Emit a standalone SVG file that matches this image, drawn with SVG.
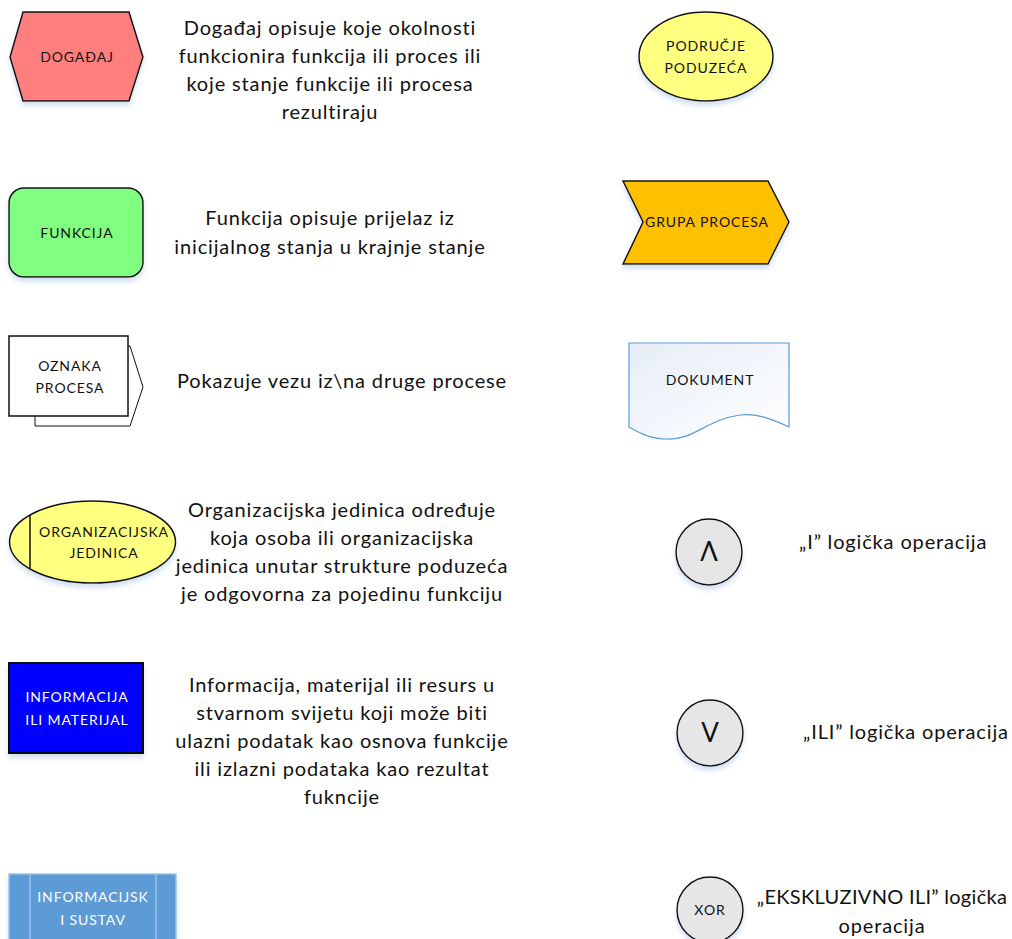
<svg xmlns="http://www.w3.org/2000/svg" width="1012" height="939" viewBox="0 0 1012 939">
<style>
.lbl{font-family:Lato,"Open Sans","Liberation Sans",sans-serif;font-size:14px;fill:#111;text-anchor:middle;letter-spacing:0.9px}
.lblw{font-family:Lato,"Open Sans","Liberation Sans",sans-serif;font-size:14px;fill:#fff;text-anchor:middle;letter-spacing:0.9px}
.desc{font-family:Lato,"Open Sans","Liberation Sans",sans-serif;font-size:20px;fill:#111;text-anchor:middle;letter-spacing:0.85px}
.descl{font-family:Lato,"Open Sans","Liberation Sans",sans-serif;font-size:20px;fill:#111;text-anchor:start;letter-spacing:0.85px}
.tight{letter-spacing:0.3px}
.sym{font-family:Lato,"Open Sans","Liberation Sans",sans-serif;font-size:26px;fill:#111;text-anchor:middle}
.sh{stroke:#111;stroke-width:1.5}
</style>
<defs>
<filter id="shadow" x="-10%" y="-10%" width="120%" height="130%">
<feDropShadow dx="0" dy="4" stdDeviation="2.5" flood-color="#9fb9e0" flood-opacity="0.45"/>
</filter>
<linearGradient id="docg" x1="0" y1="0" x2="1" y2="1">
<stop offset="0" stop-color="#e6edf8"/>
<stop offset="1" stop-color="#ffffff"/>
</linearGradient>
</defs>
<rect width="1012" height="939" fill="#fff"/>
<g id="connectors"></g>

<g id="dogadjaj">
<polygon class="sh" filter="url(#shadow)" points="23,12 129,12 143,57 129,101 23,101 10,57" fill="#ff7f7f"/>
<text class="lbl" x="77" y="62">DOGAĐAJ</text>
</g>
<g id="dogadjaj-opis">
<text class="desc" x="330" y="35">Događaj opisuje koje okolnosti</text>
<text class="desc" x="330" y="63">funkcionira funkcija ili proces ili</text>
<text class="desc" x="330" y="91">koje stanje funkcije ili procesa</text>
<text class="desc" x="330" y="119">rezultiraju</text>
</g>

<g id="funkcija">
<rect class="sh" filter="url(#shadow)" x="9" y="188" width="134" height="89" rx="15" ry="15" fill="#80ff80"/>
<text class="lbl" x="77" y="238">FUNKCIJA</text>
</g>
<g id="funkcija-opis">
<text class="desc" x="330" y="225">Funkcija opisuje prijelaz iz</text>
<text class="desc" x="330" y="254">inicijalnog stanja u krajnje stanje</text>
</g>

<g id="oznaka-procesa">
<polygon points="35,346 130,346 143,387 130,426 35,426" fill="#fff" stroke="#111" stroke-width="1"/>
<rect x="9" y="336" width="119" height="80" fill="#fff" stroke="#111" stroke-width="1.5"/>
<text class="lbl" x="70" y="371">OZNAKA</text>
<text class="lbl" x="70" y="393">PROCESA</text>
</g>
<g id="oznaka-opis">
<text class="desc" x="342" y="388">Pokazuje vezu iz\na druge procese</text>
</g>

<g id="org-jedinica">
<ellipse class="sh" filter="url(#shadow)" cx="92.5" cy="542" rx="83" ry="41" fill="#ffff80"/>
<line x1="30" y1="515" x2="30" y2="568" stroke="#111" stroke-width="1.5"/>
<text class="lbl" x="104" y="537">ORGANIZACIJSKA</text>
<text class="lbl" x="104" y="558">JEDINICA</text>
</g>
<g id="org-opis">
<text class="desc" x="342" y="517">Organizacijska jedinica određuje</text>
<text class="desc" x="342" y="545">koja osoba ili organizacijska</text>
<text class="desc" x="342" y="573">jedinica unutar strukture poduzeća</text>
<text class="desc" x="342" y="601">je odgovorna za pojedinu funkciju</text>
</g>

<g id="informacija">
<rect filter="url(#shadow)" x="9" y="663" width="134" height="90" fill="#0000ff" stroke="#111" stroke-width="2"/>
<text class="lblw" x="77" y="702">INFORMACIJA</text>
<text class="lblw" x="77" y="725">ILI MATERIJAL</text>
</g>
<g id="informacija-opis">
<text class="desc" x="342" y="692">Informacija, materijal ili resurs u</text>
<text class="desc" x="342" y="720">stvarnom svijetu koji može biti</text>
<text class="desc" x="342" y="748">ulazni podatak kao osnova funkcije</text>
<text class="desc" x="342" y="776">ili izlazni podataka kao rezultat</text>
<text class="desc" x="342" y="804">fukncije</text>
</g>

<g id="inf-sustav">
<rect filter="url(#shadow)" x="9" y="874" width="167" height="80" fill="#5b9bd5" stroke="#9dc3e6" stroke-width="1.5"/>
<line x1="30" y1="874" x2="30" y2="939" stroke="#9dc3e6" stroke-width="1.5"/>
<line x1="156" y1="874" x2="156" y2="939" stroke="#9dc3e6" stroke-width="1.5"/>
<text class="lblw" x="93" y="902">INFORMACIJSK</text>
<text class="lblw" x="93" y="925">I SUSTAV</text>
</g>

<g id="podrucje">
<ellipse class="sh" filter="url(#shadow)" cx="706" cy="56.5" rx="67" ry="44.5" fill="#ffff80"/>
<text class="lbl" x="706" y="51">PODRUČJE</text>
<text class="lbl" x="706" y="73">PODUZEĆA</text>
</g>

<g id="grupa-procesa">
<polygon class="sh" filter="url(#shadow)" points="623,181 768,181 789,222 768,264 623,264 643,222" fill="#ffc000"/>
<text class="lbl" x="707" y="227">GRUPA PROCESA</text>
</g>

<g id="dokument">
<path d="M629,343 L789,343 L789,427 C770,418 755,413 740,415 C705,420 695,440 667,439 C650,439 640,433 629,427 Z" fill="url(#docg)" stroke="#5b9bd5" stroke-width="1.2"/>
<text class="lbl" x="710" y="385">DOKUMENT</text>
</g>

<g id="i-operator">
<circle class="sh" filter="url(#shadow)" cx="709" cy="552" r="33" fill="#e6e6e6"/>
<text class="sym" x="709" y="561">Λ</text>
</g>
<g id="i-opis">
<text class="descl" x="799" y="549">„I” logička operacija</text>
</g>

<g id="ili-operator">
<circle class="sh" filter="url(#shadow)" cx="710" cy="733" r="33" fill="#e6e6e6"/>
<text class="sym" x="710" y="742">V</text>
</g>
<g id="ili-opis">
<text class="descl" x="803" y="739">„ILI” logička operacija</text>
</g>

<g id="xor-operator">
<circle class="sh" filter="url(#shadow)" cx="710" cy="910" r="33" fill="#e6e6e6"/>
<text class="lbl" x="710" y="915">XOR</text>
</g>
<g id="xor-opis">
<text class="desc tight" x="882" y="904">„EKSKLUZIVNO ILI” logička</text>
<text class="desc" x="882" y="933">operacija</text>
</g>
</svg>
